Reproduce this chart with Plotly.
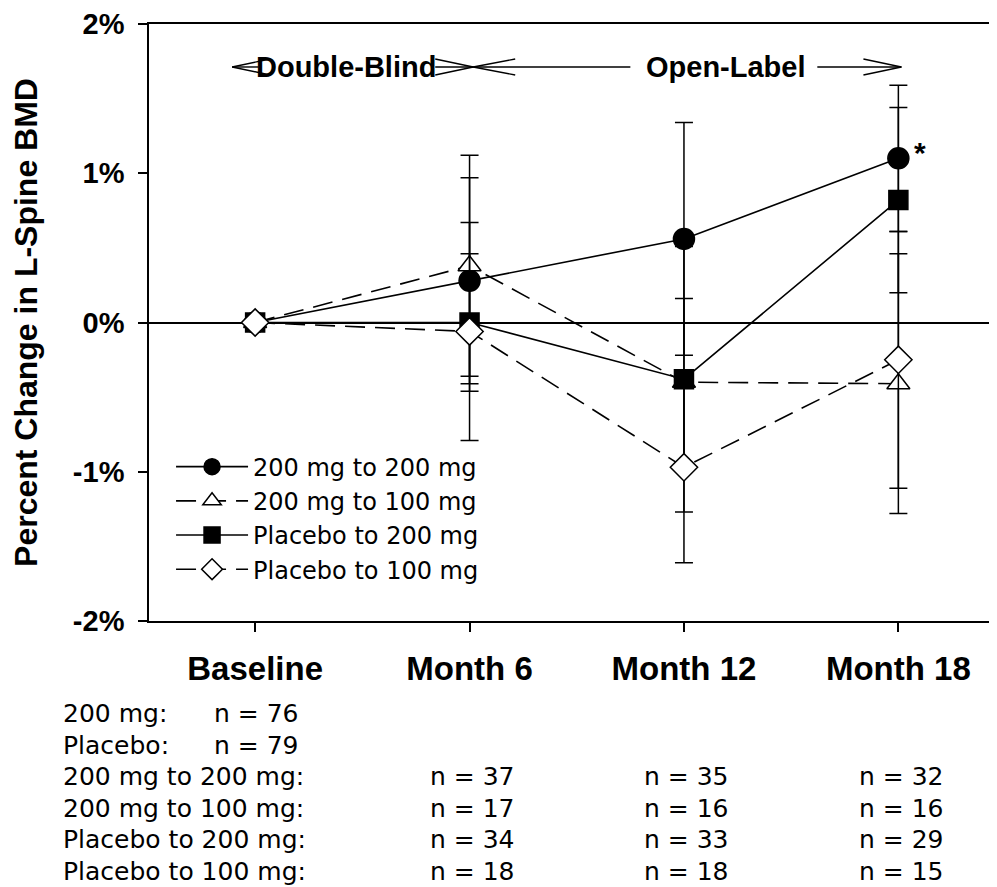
import plotly.graph_objects as go

# ---------------- data ----------------
timepoints = ["Baseline", "Month 6", "Month 12", "Month 18"]

series_names = ["200 mg to 200 mg", "200 mg to 100 mg", "Placebo to 200 mg", "Placebo to 100 mg"]

mean_200_200 = [0.0, 0.28, 0.56, 1.10]
err_200_200 = [None, 0.69, 0.78, 0.49]

mean_200_100 = [0.0, 0.38, -0.40, -0.41]
err_200_100 = [None, 0.74, 0.56, 0.87]

mean_pbo_200 = [0.0, 0.0, -0.38, 0.82]
err_pbo_200 = [None, 0.46, 0.89, 0.62]

mean_pbo_100 = [0.0, -0.06, -0.97, -0.25]
err_pbo_100 = [None, 0.73, 0.64, 0.86]

y_tick_values = [-2, -1, 0, 1, 2]
y_tick_labels = ["-2%", "-1%", "0%", "1%", "2%"]

baseline_groups = ["200 mg:", "Placebo:"]
baseline_n = [76, 79]
table_groups = ["200 mg to 200 mg:", "200 mg to 100 mg:", "Placebo to 200 mg:", "Placebo to 100 mg:"]
n_month6 = [37, 17, 34, 18]
n_month12 = [35, 16, 33, 18]
n_month18 = [32, 16, 29, 15]

# ---------------- styling ----------------
BOLD = "Liberation Sans, Arial, sans-serif"
REG = "DejaVu Sans, sans-serif"

styles = [
    dict(symbol="circle", fill="black", dash="solid", size=21),
    dict(symbol="triangle-up", fill="white", dash="20px,10px", size=20),
    dict(symbol="square", fill="black", dash="solid", size=19),
    dict(symbol="diamond", fill="white", dash="20px,10px", size=21),
]
means = [mean_200_200, mean_200_100, mean_pbo_200, mean_pbo_100]
errs = [err_200_200, err_200_100, err_pbo_200, err_pbo_100]

fig = go.Figure()
for name, m, e, st in zip(series_names, means, errs, styles):
    fig.add_trace(go.Scatter(
        x=timepoints, y=m, name=name, mode="lines+markers",
        line=dict(color="black", width=1.6, dash=st["dash"]),
        marker=dict(symbol=st["symbol"], size=st["size"], color=st["fill"],
                    line=dict(color="black", width=1.5)),
        error_y=dict(type="data", array=e, visible=True, color="black",
                     thickness=1.5, width=9),
    ))

# ---------------- annotations ----------------
ann = []
HY = 0.928  # header row (paper y)
hfont = dict(family=BOLD, size=29, color="black", weight="bold")
ann.append(dict(x=0.425, y=HY, xref="x", yref="paper", text="Double-Blind",
                showarrow=False, xanchor="center", yanchor="middle", font=hfont))
ann.append(dict(x=2.198, y=HY, xref="x", yref="paper", text="Open-Label",
                showarrow=False, xanchor="center", yanchor="middle", font=hfont))
# significance star
ann.append(dict(x="Month 18", y=mean_200_200[3], xref="x", yref="y", text="*",
                showarrow=False, xshift=22, yshift=6,
                font=dict(family=BOLD, size=30, color="black", weight="bold")))

# n table
row0 = 714
step = 31.4
def row_paper(i):
    return (621 - (row0 + step * i)) / 597

tfont = dict(family=REG, size=25, color="black")
for i, (g, n) in enumerate(zip(baseline_groups, baseline_n)):
    ann.append(dict(x=-0.104, y=row_paper(i), xref="paper", yref="paper", text=g,
                    showarrow=False, xanchor="left", yanchor="middle", font=tfont))
    ann.append(dict(x=0.074, y=row_paper(i), xref="paper", yref="paper", text=f"n = {n}",
                    showarrow=False, xanchor="left", yanchor="middle", font=tfont))
for j, g in enumerate(table_groups):
    i = j + 2
    ann.append(dict(x=-0.104, y=row_paper(i), xref="paper", yref="paper", text=g,
                    showarrow=False, xanchor="left", yanchor="middle", font=tfont))
    for tp, col in zip(timepoints[1:], [n_month6, n_month12, n_month18]):
        ann.append(dict(x=tp, y=row_paper(i), xref="x", yref="paper", text=f"n = {col[j]}",
                        showarrow=False, xanchor="center", yanchor="middle", xshift=3, font=tfont))

# ---------------- header arrows (shapes) ----------------
ah = 0.0134
line = dict(color="black", width=1.4)
shapes = []
def seg(x0, y0, x1, y1):
    shapes.append(dict(type="line", xref="x", yref="paper", x0=x0, y0=y0, x1=x1, y1=y1, line=line))
# left arrowhead of Double-Blind
seg(-0.107, HY, 0.07, HY + ah); seg(-0.107, HY, 0.07, HY - ah); seg(-0.107, HY, 0.015, HY)
# right arrowhead of Double-Blind
seg(0.84, HY, 1.017, HY); seg(0.84, HY + ah, 1.017, HY); seg(0.84, HY - ah, 1.017, HY)
# left arrowhead of Open-Label
seg(1.017, HY, 1.213, HY + ah); seg(1.017, HY, 1.213, HY - ah); seg(1.017, HY, 1.75, HY)
# right arrowhead of Open-Label
seg(2.622, HY, 3.014, HY); seg(2.837, HY + ah, 3.014, HY); seg(2.837, HY - ah, 3.014, HY)

fig.update_layout(
    width=989, height=879,
    margin=dict(l=141, r=0, t=16, b=266),
    plot_bgcolor="white", paper_bgcolor="white",
    showlegend=True,
    legend=dict(x=0.026, y=0.2956, xanchor="left", yanchor="top",
                font=dict(family=REG, size=24, color="black"),
                bgcolor="rgba(0,0,0,0)", itemwidth=72, tracegroupgap=0),
    annotations=ann, shapes=shapes,
)
fig.update_xaxes(
    type="category", categoryorder="array", categoryarray=timepoints,
    range=[-0.495, 3.46], showgrid=False, zeroline=False,
    showline=True, linecolor="black", linewidth=1.5, mirror=True,
    ticks="outside", ticklen=9, tickwidth=1.5, tickcolor="black",
    tickfont=dict(family=BOLD, size=33, color="black", weight="bold"),
    ticklabelstandoff=9,
)
fig.update_yaxes(
    range=[-2, 2], tickvals=y_tick_values, ticktext=y_tick_labels,
    showgrid=False, zeroline=True, zerolinecolor="black", zerolinewidth=1.5,
    showline=True, linecolor="black", linewidth=1.5,
    ticks="outside", ticklen=9, tickwidth=1.5, tickcolor="black",
    tickfont=dict(family=BOLD, size=29, color="black", weight="bold"),
    ticklabelstandoff=8,
    title=dict(text="Percent Change in L-Spine BMD",
               font=dict(family=BOLD, size=32, color="black", weight="bold"), standoff=26),
)

fig.write_html("out.html")
